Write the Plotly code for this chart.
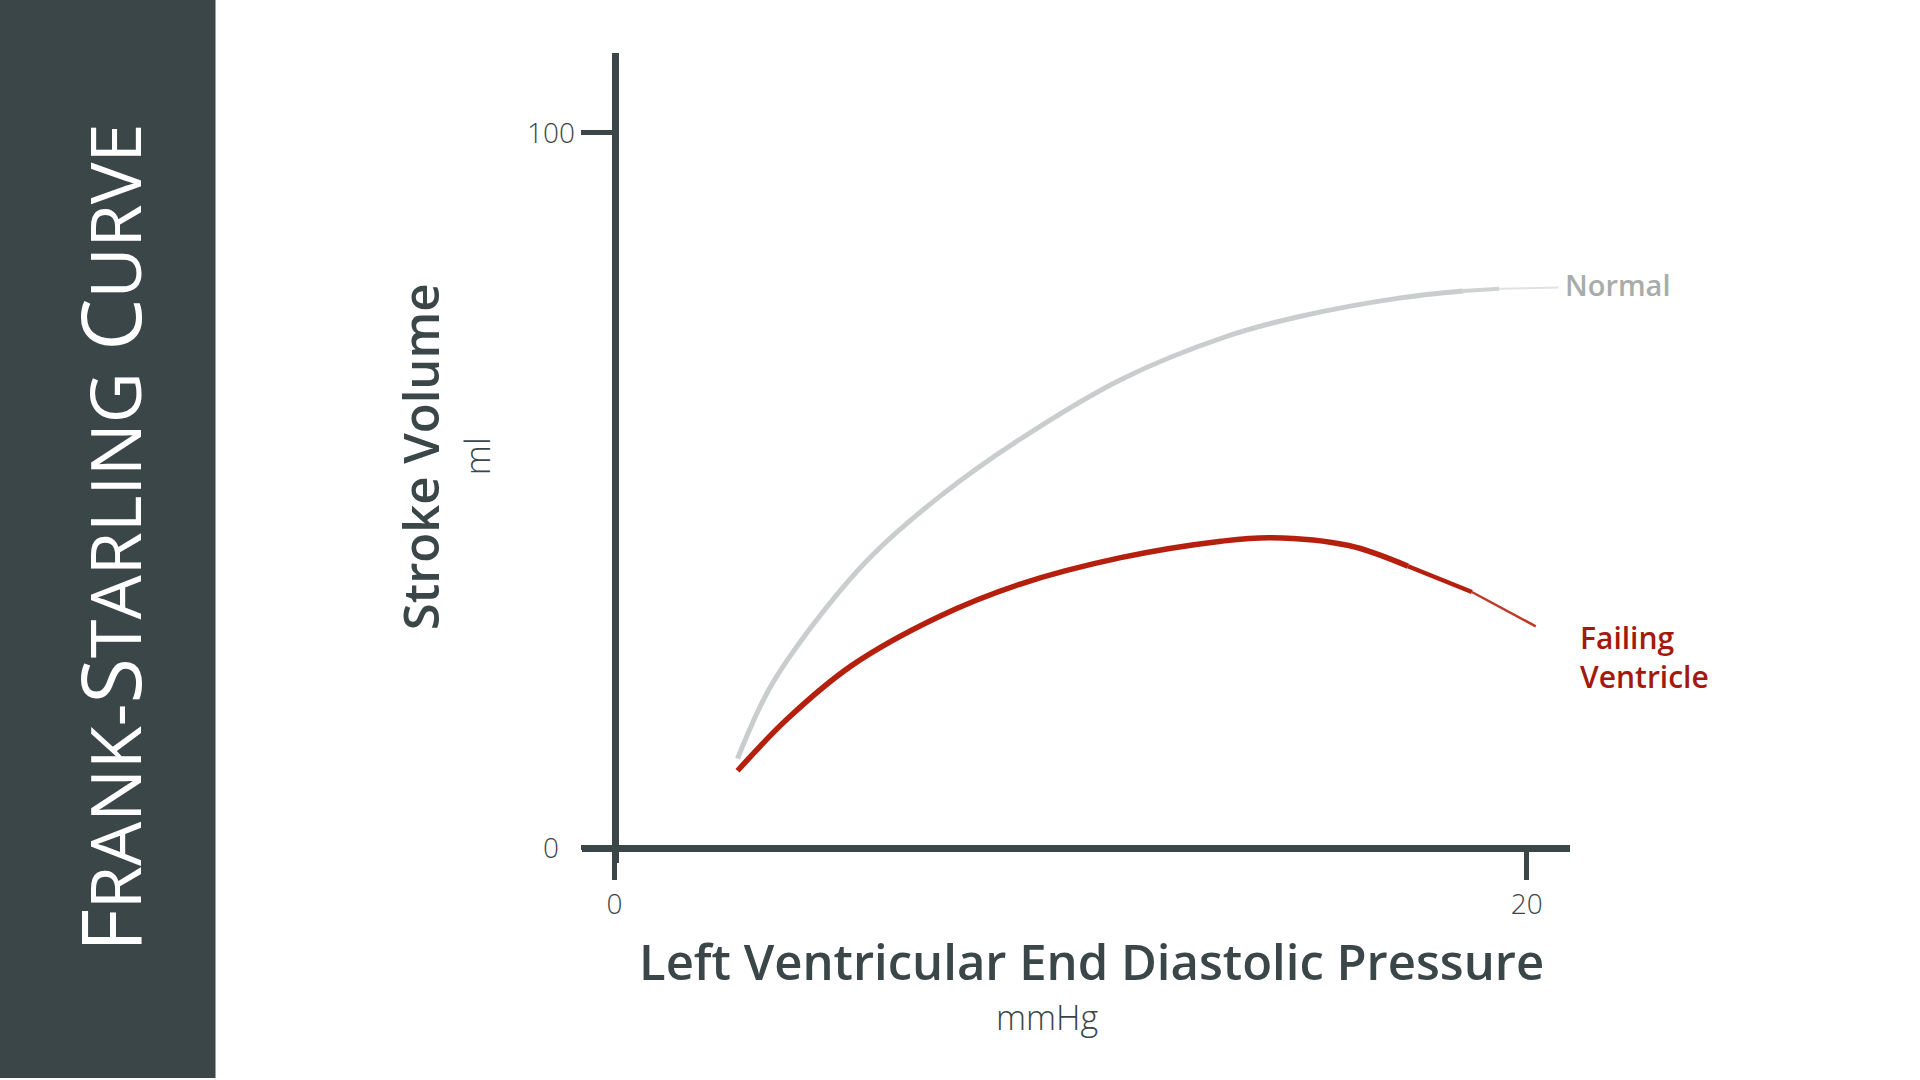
import plotly.graph_objects as go

# values
lvedp_normal = [2.7, 3.4, 4.4, 5.6, 7.1, 8.9, 11.1, 13.4, 15.0, 17.2, 18.6, 19.4, 20.7]
sv_normal = [12.5, 22.3, 31.6, 40.6, 49.0, 57.2, 65.5, 71.5, 74.3, 76.9, 77.9, 78.2, 78.4]

lvedp_failing = [2.7, 3.8, 5.2, 7.1, 8.9, 11.1, 13.3, 14.4, 16.1, 17.4, 18.8, 20.2]
sv_failing = [10.8, 18.1, 25.5, 32.3, 36.9, 40.6, 42.9, 43.4, 42.3, 39.4, 35.8, 31.0]

x_ticks = [0, 20]
y_ticks = [0, 100]
y_ticktext = ["0\u2007", "100"]

DARK = "#3b4648"
GREY = "#c9cdcd"
RED = "#b51f0d"
W, H = 1920, 1080


def px(x):
    return x / W


def py(y):
    return 1 - y / H


fig = go.Figure()


def curve(xs, ys, color, width, tail, name):
    # main stroke, then thinner/lighter pieces for the last stretch
    n = len(tail)
    fig.add_trace(go.Scatter(
        x=xs[:len(xs) - n], y=ys[:len(ys) - n], mode="lines", name=name,
        hoverinfo="skip",
        line=dict(color=color, width=width, shape="spline", smoothing=1.0)))
    for k, (w, c) in enumerate(tail):
        i = len(xs) - n - 1 + k
        fig.add_trace(go.Scatter(
            x=xs[i:i + 2], y=ys[i:i + 2], mode="lines", name=name,
            hoverinfo="skip", line=dict(color=c, width=w)))


curve(lvedp_normal, sv_normal, GREY, 5, [(4, "#cfd2d2"), (2, "#dfe2e2")], "Normal")
curve(lvedp_failing, sv_failing, RED, 5.5, [(4.5, RED), (2.5, "#bd3a28")], "Failing Ventricle")

tick_font = dict(family="Open Sans", size=28, color=DARK, weight=300)

fig.update_layout(
    width=W, height=H,
    margin=dict(l=0, r=0, t=0, b=0),
    paper_bgcolor="white", plot_bgcolor="white",
    showlegend=False,
    xaxis=dict(domain=[px(582), px(1570)], range=[-0.71, 20.95],
               showgrid=False, zeroline=False, showline=True,
               linecolor=DARK, linewidth=7, anchor="free", position=py(849.5),
               ticks="outside", ticklen=28, tickwidth=5, tickcolor=DARK,
               tickvals=x_ticks, tickfont=tick_font),
    yaxis=dict(domain=[py(865), py(53)], range=[-2.16, 111.2],
               showgrid=False, zeroline=False, showline=True,
               linecolor=DARK, linewidth=7, anchor="free", position=px(614.5),
               ticks="outside", ticklen=31, tickwidth=5, tickcolor=DARK,
               tickvals=y_ticks, ticktext=y_ticktext, tickfont=tick_font),
    shapes=[dict(type="rect", xref="paper", yref="paper", x0=0, x1=px(215.5),
                 y0=0, y1=1, fillcolor=DARK, line=dict(width=0), layer="below")],
)

sc = "<span style='font-size:70px'>%s</span>"
title = "F" + sc % "RANK-" + "S" + sc % "TARLING" + " C" + sc % "URVE"

notes = [
    dict(text=title, x=px(108), y=py(539), textangle=-90,
         font=dict(family="Open Sans", size=83, color="white", weight=500)),
    dict(text="Left Ventricular End Diastolic Pressure", x=px(1091.6), y=py(963),
         font=dict(family="Open Sans", size=49, color=DARK, weight=600)),
    dict(text="mmHg", x=px(1047), y=py(1019),
         font=dict(family="Open Sans", size=34, color=DARK, weight=300)),
    dict(text="Stroke Volume", x=px(420), y=py(458), textangle=-90,
         font=dict(family="Open Sans", size=49, color=DARK, weight=600)),
    dict(text="ml", x=px(477), y=py(457), textangle=-90,
         font=dict(family="Open Sans", size=34, color=DARK, weight=300)),
    dict(text="Normal", x=px(1563), y=py(285), xanchor="left",
         font=dict(family="Open Sans", size=29, color="#a7acac", weight=600)),
    dict(text="Failing<br>Ventricle", x=px(1578), y=py(658), xanchor="left", align="left",
         font=dict(family="Open Sans", size=30, color="#a31a0c", weight=600)),
]
for n in notes:
    n.update(xref="paper", yref="paper", showarrow=False)
    n.setdefault("xanchor", "center")
    n.setdefault("yanchor", "middle")
    fig.add_annotation(**n)

fig.write_html("out.html", config={"displayModeBar": False},
               post_script="document.body.style.margin = '0';")
